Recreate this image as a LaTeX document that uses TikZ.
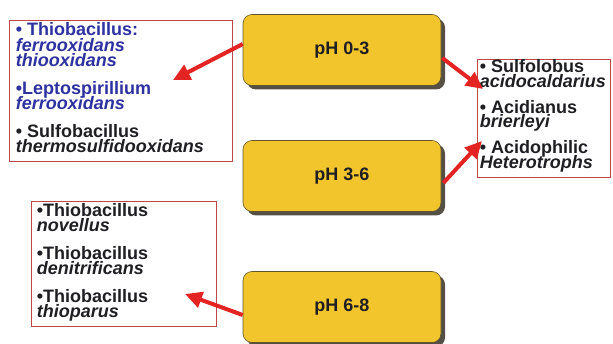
\documentclass[tikz,border=0pt]{standalone}
\usepackage{fontspec}
\setmainfont{Liberation Sans}
\usepackage{xcolor}
\usetikzlibrary{shapes, arrows.meta, shadows, calc, positioning}
\definecolor{phyellow}{RGB}{242,197,45}
\definecolor{phborder}{RGB}{95,85,45}
\definecolor{phshadow}{RGB}{85,80,70}
\definecolor{lstborder}{RGB}{190,70,70}
\definecolor{arrowred}{RGB}{228,35,35}
\definecolor{txtblue}{RGB}{45,50,160}
\definecolor{txtdark}{RGB}{30,30,35}
\newcommand{\lstfont}[1]{\fontsize{18}{#1}\selectfont\bfseries\lineskiplimit=-100pt\relax}

\begin{document}
\begin{tikzpicture}[x=1pt, y=-1pt]%{{{
        \useasboundingbox (0,0) rectangle (613,344);

        \coordinate (R) at (342, 50);

        \coordinate (P1) at (R);
        \coordinate (P2) at ($(R) + (0, 126)$);
        \coordinate (P3) at ($(R) + (0, 257)$);

        \tikzstyle{ph} = [draw=phborder, line width=0.6pt, fill=phyellow, rounded corners=9pt,
            minimum width=198pt, minimum height=71pt, text=txtdark,
            font=\fontsize{18}{18}\selectfont\bfseries,
            drop shadow={shadow xshift=4pt, shadow yshift=-4pt, fill=phshadow, opacity=1}];
        \node [ph] (ph03) at (P1) {pH 0-3};
        \node [ph] (ph36) at (P2) {pH 3-6};
        \node [ph] (ph68) at (P3) {pH 6-8};

        \tikzstyle{lst} = [draw=lstborder, line width=0.8pt, inner sep=0pt];
        \node [lst, minimum width=223pt, minimum height=141pt] (acido) at (120.5, 90.5) { };
        \node [lst, minimum width=133pt, minimum height=118pt] (thermo) at (543.5, 118) { };
        \node [lst, minimum width=185pt, minimum height=125pt] (neutro) at (123.5, 263.5) { };

        \tikzstyle{lsttext} = [anchor=north west, inner sep=0pt, align=left, text=txtdark];
        \node [lsttext, font=\lstfont{15.5}] (acidotxt) at ($(acido.north west) + (7, 3)$) {%
            \textcolor{txtblue}{• Thiobacillus:}\\
            \textcolor{txtblue}{\textit{ferrooxidans}}\\
            \textcolor{txtblue}{\textit{thiooxidans}}\\[12pt]
            \textcolor{txtblue}{•Leptospirillium}\\
            \textcolor{txtblue}{\textit{ferrooxidans}}\\[12pt]
            • Sulfobacillus\\
            \textit{thermosulfidooxidans}};
        \node [lsttext, font=\lstfont{14.5}] (thermotxt) at ($(thermo.north west) + (3, 1)$) {%
            • Sulfolobus\\
            \textit{acidocaldarius}\\[11.5pt]
            • Acidianus\\
            \textit{brierleyi}\\[11.5pt]
            • Acidophilic\\
            \textit{Heterotrophs}};
        \node [lsttext, font=\lstfont{15}] (neutrotxt) at ($(neutro.north west) + (6, 3)$) {%
            •Thiobacillus\\
            \textit{novellus}\\[13pt]
            •Thiobacillus\\
            \textit{denitrificans}\\[13pt]
            •Thiobacillus\\
            \textit{thioparus}};

        \coordinate (T1) at (173, 80);
        \coordinate (T2) at (483, 89);
        \coordinate (T3) at (482, 141);
        \coordinate (T4) at (185, 294);

        \tikzstyle{arr} = [draw=arrowred, line width=4pt, -{Triangle[length=17pt, width=16pt]}];
        \draw [arr] ($(ph03.west) + (0, -6)$) -- (T1);
        \draw [arr] ($(ph03.east) + (1, 8)$) -- (T2);
        \draw [arr] ($(ph36.east) + (2, 7)$) -- (T3);
        \draw [arr] ($(ph68.west) + (0, 8)$) -- (T4);
    \end{tikzpicture}
\end{document}
